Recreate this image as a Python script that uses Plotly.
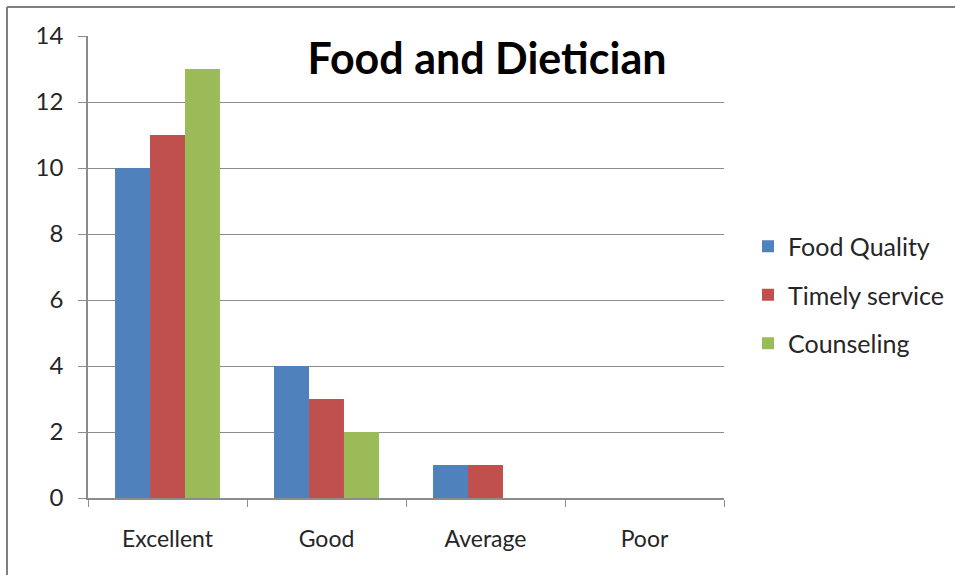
import plotly.graph_objects as go

categories = ["Excellent", "Good", "Average", "Poor"]
food_quality = [10, 4, 1, 0]
timely_service = [11, 3, 1, 0]
counseling = [13, 2, 0, 0]

series = [
    ("Food Quality", food_quality, "#4F81BD"),
    ("Timely service", timely_service, "#C0504D"),
    ("Counseling", counseling, "#9BBB59"),
]

W, H = 955, 575
L, R, T, B = 88, 231, 36, 77
FONT = "Lato"

fig = go.Figure()
for i, (name, vals, color) in enumerate(series):
    fig.add_trace(go.Bar(
        x=categories, y=vals, name=name, legendgroup=f"g{i}",
        marker=dict(color=color, line=dict(width=0)),
    ))

pw = W - L - R
ph = H - T - B


def px_x(x):
    return (x - L) / pw


def px_y(y):
    return (H - B - y) / ph


fig.update_layout(
    width=W, height=H,
    margin=dict(l=L, r=R, t=T, b=B, pad=0, autoexpand=False),
    paper_bgcolor="white", plot_bgcolor="white",
    barmode="group", bargap=0.34, bargroupgap=0,
    font=dict(family=FONT, color="#262626", size=23),
    title=dict(
        text="<b>Food and Dietician</b>",
        font=dict(family=FONT, size=43, color="black"),
        xref="container", yref="container",
        x=487 / W, y=1 - 59 / H, xanchor="center", yanchor="middle",
    ),
    legend=dict(
        x=px_x(748), y=px_y(295), xanchor="left", yanchor="middle",
        font=dict(family=FONT, size=25, color="#262626"),
        tracegroupgap=13, bgcolor="rgba(0,0,0,0)", itemwidth=30,
    ),
    xaxis=dict(
        showline=True, linecolor="#8C8C8C", linewidth=1.5,
        ticks="outside", tickson="boundaries", ticklen=7, tickcolor="#8C8C8C",
        tickfont=dict(family=FONT, size=23, color="#262626"),
        ticklabelstandoff=20, automargin=False,
        showgrid=False, zeroline=False,
    ),
    yaxis=dict(
        range=[0, 14], dtick=2,
        showline=True, linecolor="#8C8C8C", linewidth=1.5,
        ticks="outside", ticklen=8, tickcolor="#8C8C8C",
        tickfont=dict(family=FONT, size=24, color="#262626"),
        ticklabelstandoff=10, automargin=False,
        showgrid=True, gridcolor="#8C8C8C", gridwidth=1,
        zeroline=False,
    ),
    shapes=[
        # frame around the chart area
        dict(type="line", xref="paper", yref="paper",
             x0=px_x(7), x1=px_x(W + 5), y0=px_y(7), y1=px_y(7),
             line=dict(color="#7F7F7F", width=2)),
        dict(type="line", xref="paper", yref="paper",
             x0=px_x(7), x1=px_x(7), y0=px_y(7), y1=px_y(H + 5),
             line=dict(color="#7F7F7F", width=2)),
    ],
)

fig.write_html("out.html")
